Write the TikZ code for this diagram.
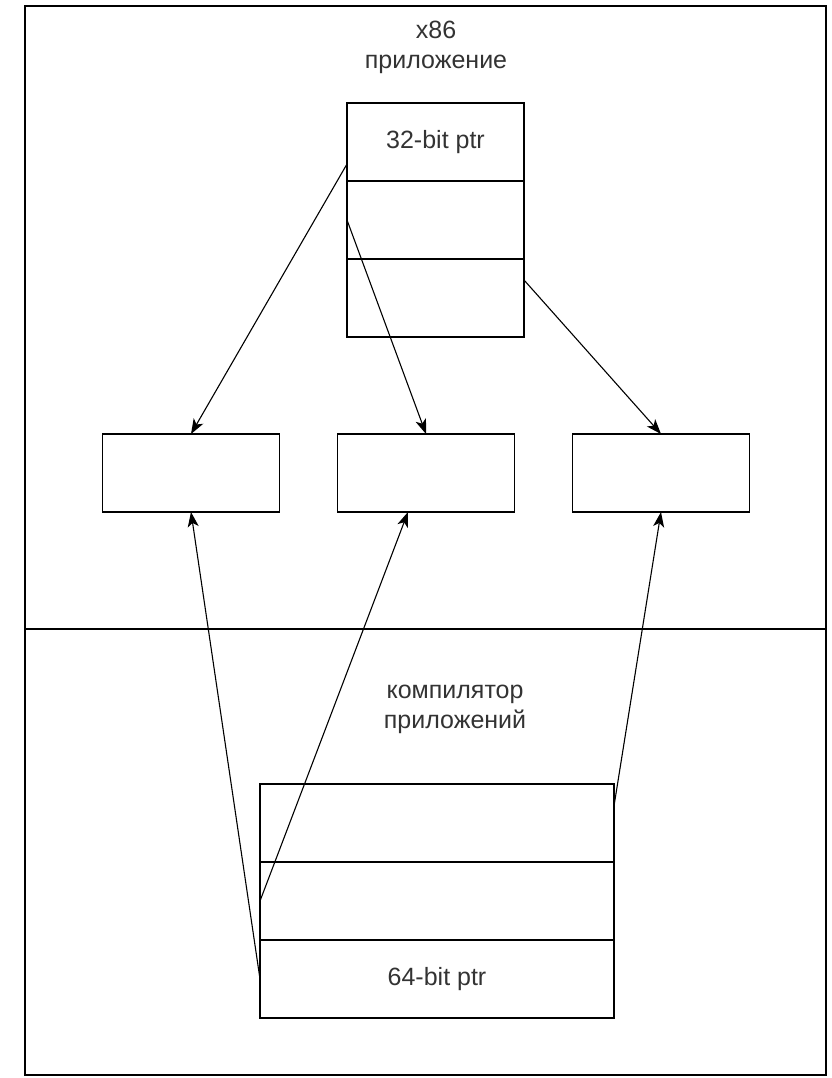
\documentclass[tikz,border=0pt]{standalone}
\usepackage{fontspec}
\setmainfont{Liberation Sans}
\usetikzlibrary{calc,positioning,arrows.meta}
\tikzset{
node distance=0pt, % cells of a stack touch each other
caption/.style={text=black!80, font=\fontsize{25}{30}\selectfont, align=center}, % free text
cell/.style={draw, line width=1.5pt, minimum width=177pt, minimum height=78pt, inner sep=0pt, outer sep=0pt, text=black!80, font=\fontsize{25}{30}\selectfont},
wide cell/.style={cell, minimum width=354pt},
ptr/.style={-{Stealth[length=15pt,width=11pt,inset=4pt]}, line width=1.1pt}, % pointer arrows
}

\begin{document}
\begin{tikzpicture}[x=1pt,y=-1pt]
   \useasboundingbox (0,0) rectangle (831,1078);
   \draw[line width=2pt] (25,6) rectangle (826,1075);
   \coordinate (split west) at (25,629);
   \coordinate (split east) at (826,629);
   \draw[line width=1.5pt] (split west) -- (split east);
   % x86 side
   \node[caption] (app) at (436,47) {x86\\приложение};
   \node[cell, anchor=north] (t1) at (435.5,103) {32-bit ptr};
   \node[cell] (t2) [below=of t1] {};
   \node[cell] (t3) [below=of t2] {};
   % targets
   \node[cell] (m1) at (191,473) {};
   \node[cell] (m2) [right=58pt of m1] {};
   \node[cell] (m3) [right=58pt of m2] {};
   % compiler side
   \node[caption] (comp) at (455,709) {компилятор\\приложений};
   \node[wide cell, anchor=north] (b1) at (437,784) {};
   \node[wide cell] (b2) [below=of b1] {};
   \node[wide cell] (b3) [below=of b2] {64-bit ptr};
    \draw[ptr] ([yshift=-22pt]t1.west) -- (m1.north);
    \draw[ptr] (t2.west) -- (m2.north);
    \draw[ptr] ([yshift=18pt]t3.east) -- (m3.north);
    \draw[ptr] (b3.west) -- (m1.south);
    \draw[ptr] (b2.west) -- ([xshift=-18pt]m2.south);
    \draw[ptr] ([yshift=17pt]b1.east) -- (m3.south);
\end{tikzpicture}
\end{document}
